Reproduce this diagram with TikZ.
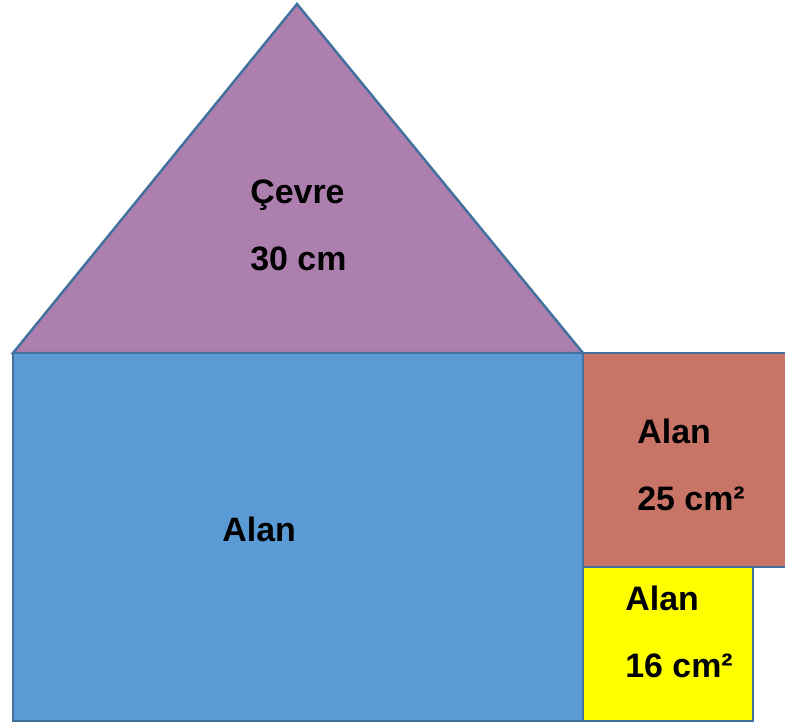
\documentclass[tikz,border=0pt]{standalone}
\usepackage{fontspec}
\setmainfont{Liberation Sans}
\definecolor{kenar}{HTML}{41719C}
\definecolor{mor}{HTML}{AD7FAE}
\definecolor{mavi}{HTML}{5B9BD5}
\definecolor{kiremit}{HTML}{C87568}
\definecolor{sari}{HTML}{FFFF00}
\begin{document}
\begin{tikzpicture}[x=0.02cm,y=-0.02cm]
    \tikzstyle{parca}=[draw=kenar, line width=1.4pt, line join=miter]
    \tikzstyle{yazi}=[anchor=base west, inner sep=0pt, font=\bfseries\fontsize{19.3}{21}\selectfont]
    \useasboundingbox (0,0) rectangle (785,727);
    \clip (0,0) rectangle (785,727);
    \draw[parca, fill=mor] (13,353) -- (297,4) -- (583,353) -- cycle;
    \draw[parca, fill=mavi] (13,353) rectangle (583,721);
    \draw[parca, fill=kiremit] (583,353) rectangle (790,567);
    \draw[parca, fill=sari] (583,567) rectangle (753,721);

    \node[yazi] (cevre) at (250,203) {Çevre};
    \node[yazi] (cevreDeger) at (250,270) {30 cm};
    \node[yazi] (alanBuyuk) at (222,541) {Alan};
    \node[yazi] (alanKirmizi) at (637,443) {Alan};
    \node[yazi] (kirmiziDeger) at (637,510) {25 cm²};
    \node[yazi] (alanSari) at (625,610) {Alan};
    \node[yazi] (sariDeger) at (625,677) {16 cm²};
\end{tikzpicture}
\end{document}
